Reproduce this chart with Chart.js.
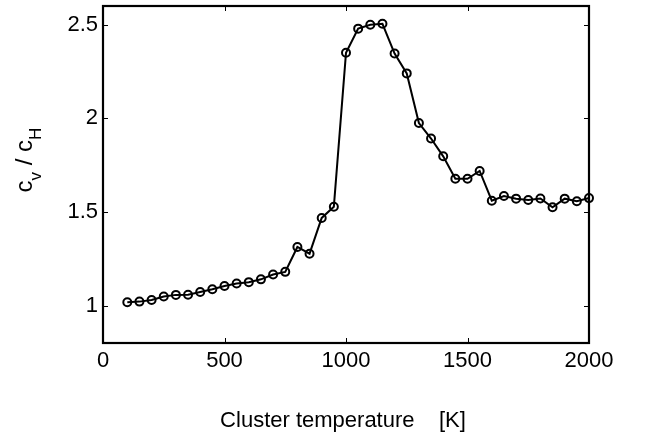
<!DOCTYPE html>
<html>
<head>
<meta charset="utf-8">
<script src="https://cdn.jsdelivr.net/npm/chart.js@4"></script>
<style>
  html, body { margin: 0; padding: 0; background: #fff; }
  #wrap { width: 645px; height: 438px; position: relative; }
</style>
</head>
<body>
<div id="wrap"><canvas id="c" width="645" height="438"></canvas></div>
<script>
const temperatures = [100,150,200,250,300,350,400,450,500,550,600,650,700,750,800,850,900,950,1000,
  1050,1100,1150,1200,1250,1300,1350,1400,1450,1500,1550,1600,1650,1700,1750,1800,1850,1900,1950,2000];
const cvOverCh = [1.018,1.021,1.030,1.048,1.057,1.058,1.072,1.087,1.104,1.118,1.125,1.140,1.166,1.180,1.313,1.277,1.468,1.528,2.350,
  2.479,2.500,2.505,2.346,2.240,1.975,1.892,1.797,1.677,1.677,1.719,1.560,1.585,1.571,1.564,1.572,1.525,1.571,1.557,1.574];
const xTicks = [0,500,1000,1500,2000];
const yTicks = [1,1.5,2,2.5];
const xLabel = 'Cluster temperature    [K]';

const FONT = '"Liberation Sans", Arial, Helvetica, sans-serif';

const framePlugin = {
  id: 'frame',
  beforeDatasetsDraw(chart) {
    const {ctx, chartArea: a, scales: {x, y}} = chart;
    ctx.save();
    ctx.strokeStyle = '#000';
    ctx.lineWidth = 1;
    const tl = 5;
    xTicks.forEach(v => {
      const px = Math.round(x.getPixelForValue(v)) + 0.5;
      ctx.beginPath();
      ctx.moveTo(px, a.bottom); ctx.lineTo(px, a.bottom - tl);
      ctx.moveTo(px, a.top); ctx.lineTo(px, a.top + tl);
      ctx.stroke();
    });
    yTicks.forEach(v => {
      const py = Math.round(y.getPixelForValue(v)) + 0.5;
      ctx.beginPath();
      ctx.moveTo(a.left, py); ctx.lineTo(a.left + tl, py);
      ctx.moveTo(a.right, py); ctx.lineTo(a.right - tl, py);
      ctx.stroke();
    });
    ctx.lineWidth = 2.2;
    ctx.strokeRect(a.left, a.top, a.right - a.left, a.bottom - a.top);
    ctx.restore();
  },
  afterDraw(chart) {
    const {ctx} = chart;
    ctx.save();
    ctx.fillStyle = '#000';
    // x title
    ctx.font = '22px ' + FONT;
    ctx.textAlign = 'left';
    ctx.textBaseline = 'alphabetic';
    const w = ctx.measureText(xLabel).width;
    ctx.fillText(xLabel, 343 - w / 2, 427);
    // y title with subscripts, rotated
    ctx.translate(32, 160);
    ctx.rotate(-Math.PI / 2);
    const parts = [
      {t: 'c', f: '24px ', dy: 0},
      {t: 'v', f: '17px ', dy: 9},
      {t: ' / ', f: '24px ', dy: 0},
      {t: 'c', f: '24px ', dy: 0},
      {t: 'H', f: '17px ', dy: 9}
    ];
    let total = 0;
    parts.forEach(p => { ctx.font = p.f + FONT; p.w = ctx.measureText(p.t).width; total += p.w; });
    let cx = -total / 2;
    parts.forEach(p => {
      ctx.font = p.f + FONT;
      ctx.fillText(p.t, cx, p.dy);
      cx += p.w;
    });
    ctx.restore();
  }
};

new Chart(document.getElementById('c'), {
  type: 'line',
  data: {
    datasets: [{
      data: temperatures.map((t, i) => ({x: t, y: cvOverCh[i]})),
      borderColor: '#000',
      borderWidth: 2,
      pointStyle: 'circle',
      pointRadius: 4,
      pointBorderWidth: 2,
      pointBorderColor: '#000',
      pointBackgroundColor: 'rgba(0,0,0,0)',
      tension: 0,
      fill: false,
      clip: false
    }]
  },
  options: {
    responsive: false,
    animation: false,
    devicePixelRatio: 1,
    layout: { padding: { left: 0, top: 4, right: 56, bottom: 0 } },
    plugins: { legend: { display: false }, tooltip: { enabled: false } },
    scales: {
      x: {
        type: 'linear',
        min: 0, max: 2000,
        afterBuildTicks: s => { s.ticks = xTicks.map(v => ({value: v})); },
        afterFit: s => { s.height = 95; s.paddingLeft = 0; s.paddingRight = 0; },
        grid: { display: false, drawTicks: false },
        border: { display: false },
        ticks: { color: '#000', font: { family: FONT, size: 22 }, padding: 5, maxRotation: 0, autoSkip: false,
                 callback: v => String(v) }
      },
      y: {
        type: 'linear',
        min: 0.8, max: 2.6,
        afterBuildTicks: s => { s.ticks = yTicks.map(v => ({value: v})); },
        afterFit: s => { s.width = 103; s.paddingTop = 0; s.paddingBottom = 0; },
        grid: { display: false, drawTicks: false },
        border: { display: false },
        ticks: { color: '#000', font: { family: FONT, size: 22 }, padding: 5, autoSkip: false,
                 callback: v => String(v) }
      }
    }
  },
  plugins: [framePlugin]
});
</script>
</body>
</html>
